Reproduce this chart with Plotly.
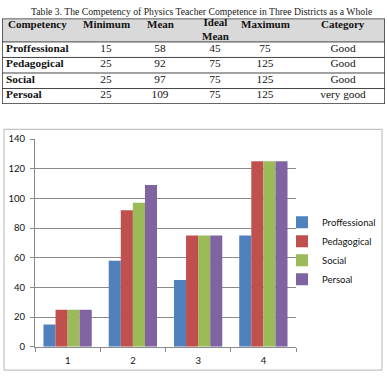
import plotly.graph_objects as go

# ---- data ----
competency = ["Proffessional", "Pedagogical", "Social", "Persoal"]
minimum = [15, 25, 25, 25]
mean = [58, 92, 97, 109]
ideal_mean = [45, 75, 75, 75]
maximum = [75, 125, 125, 125]
category = ["Good", "Good", "Good", "very good"]
headers = ["Competency", "Minimum", "Mean", "Ideal<br>Mean", "Maximum", "Category"]
x_labels = ["1", "2", "3", "4"]
title_text = "Table 3. The Competency of Physics Teacher Competence in Three Districts as a Whole"

colors = ["#4F81BD", "#C0504D", "#9BBB59", "#8064A2"]

W, H = 387, 379

def py(p):
    return 1 - p / H

def px(p):
    return p / W

fig = go.Figure()

# ---- bar chart ----
for i, name in enumerate(competency):
    vals = [minimum[i], mean[i], ideal_mean[i], maximum[i]]
    fig.add_trace(go.Bar(x=x_labels, y=vals, name=name, marker_color=colors[i],
                         marker_line_width=0, xaxis="x", yaxis="y"))

# ---- table (drawn on its own axes) ----
tbl_left, tbl_right, tbl_top, hdr_bottom, row_h = 2, 385, 13, 37, 16
n_rows = len(competency)
tbl_bottom = hdr_bottom + row_h * n_rows
col_x = [6, 106, 160, 215, 265, 343]
serif = "Liberation Serif"
tsize = 11.3

row_y = [hdr_bottom + row_h * (i + 0.5) - 1 for i in range(n_rows)]
columns = [competency, minimum, mean, ideal_mean, maximum, category]
for c, col in enumerate(columns):
    txt = [f"<b>{v}</b>" if c == 0 else str(v) for v in col]
    fig.add_trace(go.Scatter(
        x=[col_x[c]] * n_rows, y=row_y, text=txt, mode="text",
        textposition="middle right" if c == 0 else "middle center",
        textfont=dict(family=serif, size=tsize, color="#111"),
        xaxis="x2", yaxis="y2", showlegend=False, hoverinfo="skip", cliponaxis=False))

annotations = [dict(text=title_text, x=px(201), y=py(6), xref="paper", yref="paper",
                    showarrow=False, xanchor="center", yanchor="middle",
                    font=dict(family=serif, size=9.7, color="#222"))]
for c, h in enumerate(headers):
    n_lines = h.count("<br>") + 1
    annotations.append(dict(text=f"<b>{h}</b>", x=col_x[c], y=18.5 + 5.5 * (n_lines - 1),
                            xref="x2", yref="y2",
                            showarrow=False, xanchor="left" if c == 0 else "center", yanchor="middle",
                            font=dict(family=serif, size=11, color="#111")))

shapes = [
    dict(type="rect", xref="x2", yref="y2", x0=tbl_left, x1=tbl_right, y0=tbl_top, y1=hdr_bottom,
         fillcolor="#d9d9d9", line_width=0, layer="below"),
]
for i in range(n_rows):
    yy = hdr_bottom + row_h * i
    shapes.append(dict(type="line", xref="x2", yref="y2", x0=tbl_left, x1=tbl_right, y0=yy, y1=yy,
                       line=dict(color="#444", width=1)))
shapes.append(dict(type="rect", xref="x2", yref="y2", x0=tbl_left, x1=tbl_right, y0=tbl_top, y1=tbl_bottom,
                   line=dict(color="#333", width=1.5)))
# chart outer border
shapes.append(dict(type="rect", xref="paper", yref="paper", x0=px(4), x1=px(382), y0=py(375), y1=py(127),
                   line=dict(color="#c4c4c4", width=1.2), layer="below"))

grid = "#8a8a8a"
fig.update_layout(
    width=W, height=H, margin=dict(l=0, r=0, t=0, b=0),
    paper_bgcolor="white", plot_bgcolor="white",
    barmode="group", bargap=0.26, bargroupgap=0,
    font=dict(family="Lato", size=9.5, color="#111"),
    xaxis=dict(domain=[px(35), px(296)], type="category", tickson="boundaries", ticks="outside",
               ticklen=4, tickcolor=grid, showline=True, linecolor=grid, showgrid=False,
               tickfont=dict(size=9.5), ticklabelstandoff=5, anchor="y"),
    yaxis=dict(domain=[py(351), py(137)], range=[0, 140], dtick=20, showgrid=True, gridcolor=grid,
               showline=True, linecolor=grid, ticks="outside", ticklen=4, tickcolor=grid,
               zeroline=False, tickfont=dict(size=9.5), ticklabelstandoff=3, anchor="x"),
    xaxis2=dict(domain=[px(tbl_left), px(tbl_right)], range=[tbl_left, tbl_right], visible=False,
                anchor="y2", fixedrange=True),
    yaxis2=dict(domain=[py(tbl_bottom), py(tbl_top)], range=[tbl_bottom, tbl_top], visible=False,
                anchor="x2", fixedrange=True),
    legend=dict(x=px(282), y=py(252), xanchor="left", yanchor="middle", font=dict(size=9.5),
                bgcolor="rgba(0,0,0,0)", tracegroupgap=0),
    shapes=shapes,
    annotations=annotations,
)

fig.write_html("out.html")
